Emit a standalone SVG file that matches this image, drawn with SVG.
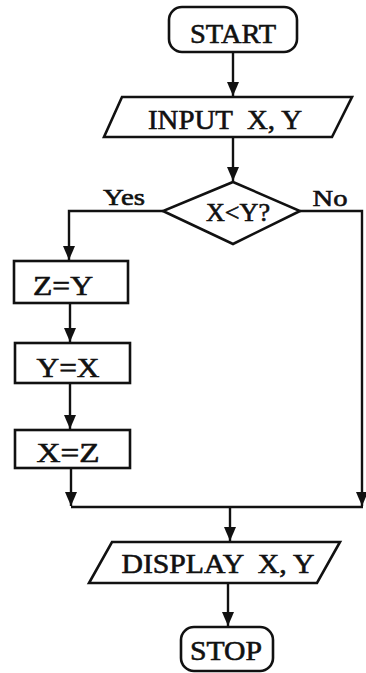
<svg xmlns="http://www.w3.org/2000/svg" width="366" height="673" viewBox="0 0 366 673">
<style>
.s{fill:none;stroke:#111;stroke-width:2.6}
.b{fill:#fff;stroke:#111;stroke-width:2.6}
.t{font-family:"Liberation Serif","Times New Roman",serif;fill:#111;stroke:#111;stroke-width:0.6;text-anchor:middle}
.c{fill:none;stroke:#111;stroke-width:2.4}
</style>
<defs>
<marker id="ad" markerUnits="userSpaceOnUse" markerWidth="14" markerHeight="12" viewBox="0 0 14 12" refX="14" refY="6" orient="auto">
<path d="M0,0 L14,6 L0,12 Z" fill="#111"/>
</marker>
</defs>
<rect width="366" height="673" fill="#fff"/>
<g id="connectors">
<line class="c" x1="233" y1="52" x2="233" y2="96" marker-end="url(#ad)"/>
<line class="c" x1="233" y1="137" x2="233" y2="181" marker-end="url(#ad)"/>
<polyline class="c" points="163,211 69,211 69,260" marker-end="url(#ad)"/>
<line class="c" x1="70" y1="303" x2="70" y2="342" marker-end="url(#ad)"/>
<line class="c" x1="70" y1="383" x2="70" y2="429" marker-end="url(#ad)"/>
<line class="c" x1="71" y1="468" x2="71" y2="506" marker-end="url(#ad)"/>
<polyline class="c" points="300,211 362,211 362,506" marker-end="url(#ad)"/>
<line class="c" x1="71" y1="507" x2="363" y2="507"/>
<line class="c" x1="230" y1="507" x2="230" y2="541" marker-end="url(#ad)"/>
<line class="c" x1="228" y1="583" x2="228" y2="626" marker-end="url(#ad)"/>
</g>
<g id="start">
<rect class="b" x="169" y="7" width="128" height="45" rx="13"/>
<text class="t" x="233" y="43" font-size="28" textLength="86" lengthAdjust="spacingAndGlyphs">START</text>
</g>
<g id="input">
<polygon class="b" points="122,97 352,97 332,137 104,137"/>
<text class="t" x="225" y="129" font-size="27" textLength="154" lengthAdjust="spacingAndGlyphs" xml:space="preserve">INPUT  X, Y</text>
</g>
<g id="decision">
<polygon class="b" points="233,182 300,211 233,244 163,211"/>
<text class="t" x="238" y="221" font-size="25" textLength="64" lengthAdjust="spacingAndGlyphs">X&lt;Y?</text>
<text class="t" x="124" y="205" font-size="24" textLength="42" lengthAdjust="spacingAndGlyphs">Yes</text>
<text class="t" x="330" y="206" font-size="24" textLength="35" lengthAdjust="spacingAndGlyphs">No</text>
</g>
<g id="zy">
<rect class="b" x="14" y="261" width="114" height="42"/>
<text class="t" x="63" y="295" font-size="27" textLength="60" lengthAdjust="spacingAndGlyphs">Z=Y</text>
</g>
<g id="yx">
<rect class="b" x="15" y="343" width="115" height="40"/>
<text class="t" x="68" y="377" font-size="27" textLength="63" lengthAdjust="spacingAndGlyphs">Y=X</text>
</g>
<g id="xz">
<rect class="b" x="15" y="430" width="115" height="38"/>
<text class="t" x="68" y="462" font-size="27" textLength="63" lengthAdjust="spacingAndGlyphs">X=Z</text>
</g>
<g id="display">
<polygon class="b" points="112,542 340,542 317,583 89,583"/>
<text class="t" x="218" y="573" font-size="27" textLength="193" lengthAdjust="spacingAndGlyphs" xml:space="preserve">DISPLAY  X, Y</text>
</g>
<g id="stop">
<rect class="b" x="181" y="627" width="92" height="44" rx="13"/>
<text class="t" x="226" y="660" font-size="28" textLength="72" lengthAdjust="spacingAndGlyphs">STOP</text>
</g>
</svg>
